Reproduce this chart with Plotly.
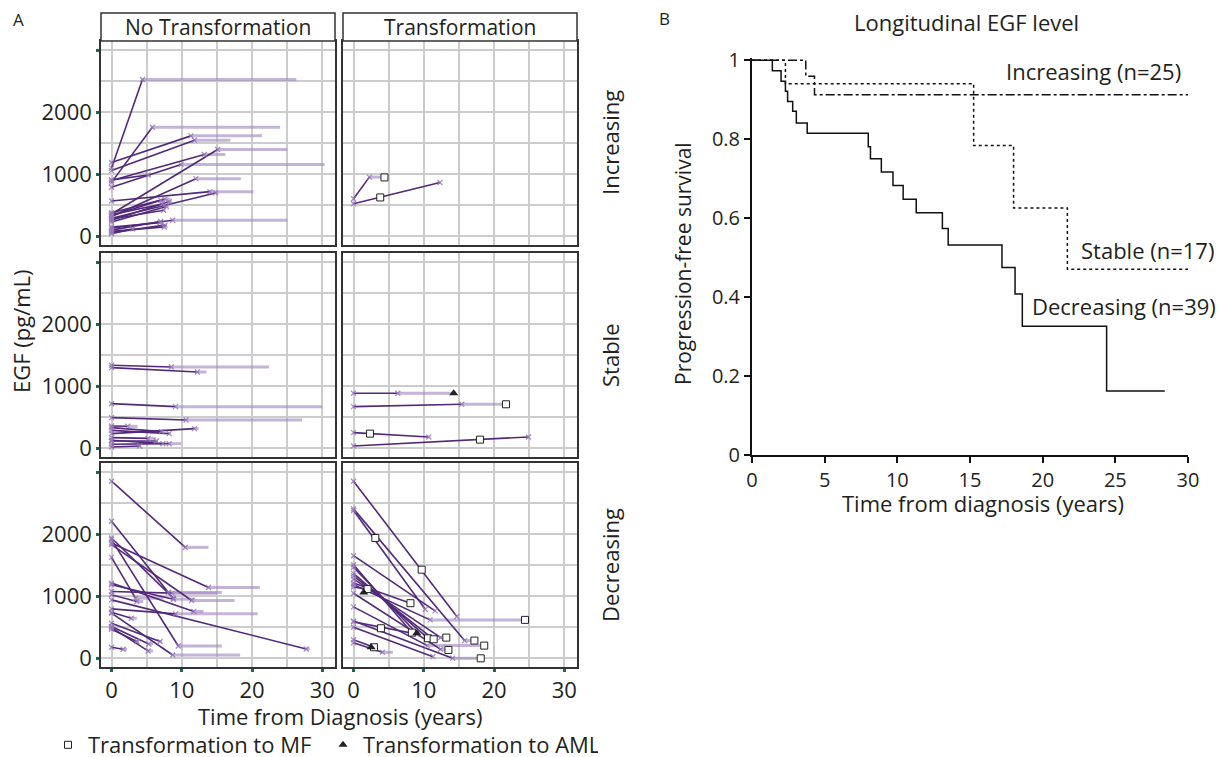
import plotly.graph_objects as go

# page body has an 8px margin, so the figure is drawn 8px smaller and positions are shifted
OFF = 8
W, H = 1227 - OFF, 757 - OFF
DARK = "#52297a"
LIGHT = "rgba(165,140,195,0.65)"
PT = "rgba(150,120,185,0.85)"
TEAL = "#17695d"
GRID = "#cccccc"
TXT = "#231f20"
FONT = "Open Sans"

# ---------------- panel A data: first sample at t=0 (EGF e0), second sample (t1, e1), follow-up end tend
inc_no_e0 = [1100, 870, 1190, 1060, 360, 900, 790, 910, 320, 570, 290, 380, 330, 260, 350, 230, 280, 130, 100, 60, 150, 80, 40]
inc_no_t1 = [4.4, 5.8, 11.3, 11.8, 15.1, 13.2, 9.9, 5.2, 12.0, 14.0, 14.8, 7.6, 7.0, 8.2, 7.2, 7.8, 7.4, 8.7, 7.0, 7.6, 6.9, 7.5, 3.0]
inc_no_e1 = [2530, 1760, 1620, 1550, 1400, 1320, 1160, 990, 930, 720, 700, 600, 580, 560, 520, 480, 420, 260, 240, 180, 220, 150, 120]
inc_no_tend = [26.3, 24.0, 21.4, 16.9, 25.0, 16.2, 30.3, 5.6, 18.4, 20.2, 15.2, 8.4, 7.6, 8.6, 7.4, 8.1, 7.7, 25.0, 7.2, 7.9, 7.1, 7.7, 3.2]

inc_tr_e0 = [606, 526]
inc_tr_t1 = [2.25, 12.3]
inc_tr_e1 = [955, 868]
inc_tr_tend = [4.4, 12.3]
inc_mf_t = [4.4, 3.8]
inc_mf_e = [950, 627]
inc_aml_t = []
inc_aml_e = []

stb_no_e0 = [1339, 1301, 720, 495, 360, 333, 237, 290, 172, 129, 65, 22, 118]
stb_no_t1 = [8.5, 12.2, 9.1, 10.6, 2.3, 7.1, 11.8, 8.2, 5.2, 7.3, 8.2, 4.0, 6.4]
stb_no_e1 = [1312, 1231, 672, 457, 355, 269, 317, 237, 161, 75, 75, 38, 118]
stb_no_tend = [22.4, 13.5, 30.0, 27.1, 3.7, 7.3, 12.4, 8.4, 6.3, 7.5, 9.9, 4.2, 6.6]

stb_tr_e0 = [887, 672, 253, 38]
stb_tr_t1 = [6.3, 15.4, 10.7, 24.9]
stb_tr_e1 = [887, 710, 183, 183]
stb_tr_tend = [14.25, 21.7, 10.7, 24.9]
stb_mf_t = [21.7, 2.35, 18.0]
stb_mf_e = [710, 237, 140]
stb_aml_t = [14.25]
stb_aml_e = [887]

dec_no_e0 = [2857, 2210, 1941, 1914, 1860, 1833, 1628, 1213, 1186, 1078, 1024, 943, 798, 728, 744, 566, 512, 469, 496, 178]
dec_no_t1 = [10.5, 8.1, 8.8, 9.5, 13.8, 11.4, 3.4, 11.7, 8.8, 8.6, 3.6, 27.7, 9.1, 8.7, 2.8, 6.9, 5.3, 3.6, 5.2, 1.65]
dec_no_e1 = [1790, 1062, 970, 199, 1143, 933, 970, 755, 954, 1051, 916, 151, 717, 54, 647, 270, 232, 270, 119, 146]
dec_no_tend = [13.8, 15.7, 9.2, 15.7, 21.1, 17.5, 7.4, 13.1, 11.9, 15.0, 4.5, 28.2, 20.8, 18.3, 3.6, 7.2, 5.9, 3.9, 5.9, 2.2]

dec_tr_e0 = [2857, 2410, 2383, 1655, 1510, 1470, 1213, 1370, 1330, 1280, 1185, 1150, 1050, 590, 830, 600, 500, 300, 250]
dec_tr_t1 = [14.7, 15.8, 10.2, 11.6, 8.3, 9.0, 8.1, 10.6, 11.4, 12.4, 10.9, 2.0, 12.4, 9.0, 10.5, 14.1, 11.3, 2.9, 4.1]
dec_tr_e1 = [674, 286, 792, 765, 415, 404, 889, 323, 307, 334, 620, 1116, 145, 390, 205, 0, 27, 178, 97]
dec_tr_tend = [14.7, 17.2, 10.2, 11.6, 8.3, 9.0, 8.1, 10.6, 11.4, 13.2, 24.4, 2.0, 13.5, 9.0, 18.6, 18.1, 11.3, 2.9, 5.6]
dec_mf_t = [9.7, 17.2, 3.1, 8.3, 8.1, 10.6, 11.4, 13.2, 24.4, 2.0, 13.5, 3.9, 18.6, 18.1, 2.9]
dec_mf_e = [1429, 286, 1941, 415, 889, 323, 307, 334, 620, 1116, 135, 485, 205, 0, 178]
dec_aml_t = [1.45, 9.0, 2.5]
dec_aml_e = [1062, 404, 178]

# ---------------- panel B data: Kaplan-Meier steps
dec_km_t = [0, 1.4, 2.0, 2.3, 2.45, 2.8, 3.05, 3.8, 8.0, 8.15, 8.9, 9.7, 10.4, 11.3, 13.1, 13.5, 17.2, 18.1, 18.6, 24.4, 28.4]
dec_km_s = [1, 0.974, 0.947, 0.922, 0.896, 0.871, 0.841, 0.815, 0.781, 0.751, 0.717, 0.683, 0.648, 0.614, 0.574, 0.532, 0.475, 0.408, 0.326, 0.162, 0.162]
stb_km_t = [0, 2.3, 15.25, 18.0, 21.7, 30]
stb_km_s = [1, 0.941, 0.784, 0.626, 0.471, 0.471]
inc_km_t = [0, 3.7, 4.3, 30]
inc_km_s = [1, 0.96, 0.913, 0.913]

rows = ["Increasing", "Stable", "Decreasing"]
cols = ["No Transformation", "Transformation"]


def fx(p):
    return (p - OFF) / W


def fy(p):
    return 1 - (p - OFF) / H


col_px = [(101, 335), (343, 577)]
row_px = [(41, 245), (253, 457), (463, 667)]

panels = [
    (inc_no_e0, inc_no_t1, inc_no_e1, inc_no_tend, None),
    (inc_tr_e0, inc_tr_t1, inc_tr_e1, inc_tr_tend, (inc_mf_t, inc_mf_e, inc_aml_t, inc_aml_e)),
    (stb_no_e0, stb_no_t1, stb_no_e1, stb_no_tend, None),
    (stb_tr_e0, stb_tr_t1, stb_tr_e1, stb_tr_tend, (stb_mf_t, stb_mf_e, stb_aml_t, stb_aml_e)),
    (dec_no_e0, dec_no_t1, dec_no_e1, dec_no_tend, None),
    (dec_tr_e0, dec_tr_t1, dec_tr_e1, dec_tr_tend, (dec_mf_t, dec_mf_e, dec_aml_t, dec_aml_e)),
]

fig = go.Figure()
layout = {}

for k, (e0, t1, e1, tend, ev) in enumerate(panels):
    r, c = divmod(k, 2)
    n = k + 1
    xa, ya = f"x{n}", f"y{n}"
    dx, dy, lx, ly, mx, my = [], [], [], [], [], []
    for a, t, b, te in zip(e0, t1, e1, tend):
        dx += [0, t, None]
        dy += [a, b, None]
        if te > t:
            lx += [t, te, None]
            ly += [b, b, None]
        mx += [0, t]
        my += [a, b]
    fig.add_trace(go.Scatter(x=lx, y=ly, mode="lines", xaxis=xa, yaxis=ya,
                             line=dict(color=LIGHT, width=3), showlegend=False, hoverinfo="skip"))
    fig.add_trace(go.Scatter(x=dx, y=dy, mode="lines", xaxis=xa, yaxis=ya,
                             line=dict(color=DARK, width=1.6), showlegend=False))
    fig.add_trace(go.Scatter(x=mx, y=my, mode="markers", xaxis=xa, yaxis=ya,
                             marker=dict(symbol="x-thin", size=5, line=dict(color=PT, width=1.3)),
                             showlegend=False))
    if ev:
        mf_t, mf_e, aml_t, aml_e = ev
        last = k == 5
        fig.add_trace(go.Scatter(x=mf_t, y=mf_e, mode="markers", xaxis=xa, yaxis=ya,
                                 name="Transformation to MF", legendgroup="mf", showlegend=last,
                                 marker=dict(symbol="square", size=7, color="white",
                                             line=dict(color="#222", width=1))))
        fig.add_trace(go.Scatter(x=aml_t, y=aml_e, mode="markers", xaxis=xa, yaxis=ya,
                                 name="Transformation to AML", legendgroup="aml", showlegend=last,
                                 marker=dict(symbol="triangle-up", size=8, color="#222")))

    x0, x1 = col_px[c]
    y0, y1 = row_px[r]
    xkey = "xaxis" if n == 1 else f"xaxis{n}"
    ykey = "yaxis" if n == 1 else f"yaxis{n}"
    layout[xkey] = dict(
        domain=[fx(x0), fx(x1)], range=[-1.5, 31.8], anchor=ya, automargin=False,
        tickvals=[0, 10, 20, 30], showticklabels=(r == 2),
        ticks="outside" if r == 2 else "", ticklen=3, tickwidth=3, tickcolor=TEAL,
        showgrid=True, gridcolor=GRID, gridwidth=1.6, zeroline=False,
        minor=dict(tickvals=[5, 15, 25], showgrid=True, gridcolor=GRID, gridwidth=1.6, ticks=""),
        showline=True, mirror=True, linecolor="#333", linewidth=1.5,
        tickfont=dict(size=22, color=TXT),
    )
    layout[ykey] = dict(
        domain=[fy(y1), fy(y0)], range=[-140, 3150], anchor=xa, automargin=False,
        tickvals=[0, 1000, 2000, 3000], ticktext=["0", "1000", "2000", ""],
        showticklabels=(c == 0), ticks="outside" if c == 0 else "",
        ticklen=3, tickwidth=3, tickcolor=TEAL,
        showgrid=True, gridcolor=GRID, gridwidth=1.6, zeroline=False,
        minor=dict(tickvals=[500, 1500, 2500], showgrid=True, gridcolor=GRID, gridwidth=1.6, ticks=""),
        showline=True, mirror=True, linecolor="#333", linewidth=1.5,
        tickfont=dict(size=22, color=TXT),
    )

# ---------------- panel B
km = [
    (dec_km_t, dec_km_s, "solid"),
    (stb_km_t, stb_km_s, "dot"),
    (inc_km_t, inc_km_s, "dashdot"),
]
for t, s, dash in km:
    fig.add_trace(go.Scatter(x=t, y=s, mode="lines", line_shape="hv", xaxis="x7", yaxis="y7",
                             line=dict(color="#111", width=1.5, dash=dash), showlegend=False))

layout["xaxis7"] = dict(
    domain=[fx(752), fx(1188)], range=[0, 30], anchor="y7", dtick=5, automargin=False,
    ticks="outside", ticklen=6, tickwidth=2, tickcolor="#111",
    showline=True, linecolor="#111", linewidth=2, showgrid=False, zeroline=False,
    tickfont=dict(size=20, color=TXT),
)
layout["yaxis7"] = dict(
    domain=[fy(455), fy(58)], range=[0, 1.006], anchor="x7", automargin=False,
    tickvals=[0, 0.2, 0.4, 0.6, 0.8, 1], ticktext=["0", "0.2", "0.4", "0.6", "0.8", "1"],
    ticks="outside", ticklen=6, tickwidth=2, tickcolor="#111",
    showline=True, linecolor="#111", linewidth=2, showgrid=False, zeroline=False,
    tickfont=dict(size=20, color=TXT),
)

# ---------------- strips, labels
shapes = []
ann = []


def text(t, x, y, size=20, angle=0):
    ann.append(dict(text=t, x=fx(x), y=fy(y), xref="paper", yref="paper", showarrow=False,
                    xanchor="center", yanchor="middle", textangle=angle,
                    font=dict(size=size, color=TXT)))


for c, name in enumerate(cols):
    x0, x1 = col_px[c]
    shapes.append(dict(type="rect", xref="paper", yref="paper", x0=fx(x0), x1=fx(x1),
                       y0=fy(41), y1=fy(13), fillcolor="white", line=dict(color="#333", width=1.5)))
    text(name, (x0 + x1) / 2, 27, 21)
for r, name in enumerate(rows):
    y0, y1 = row_px[r]
    text(name, 610, (y0 + y1) / 2, 22, -90)

text("A", 18, 20, 17)
text("B", 664, 18, 17)
text("EGF (pg/mL)", 21, 331, 22, -90)
text("Time from Diagnosis (years)", 340, 716, 22)
text("Longitudinal EGF level", 966, 22, 22)
text("Progression-free survival", 683, 264, 21, -90)
text("Time from diagnosis (years)", 983, 503, 22)
text("Increasing (n=25)", 1093, 71, 22)
text("Stable (n=17)", 1147, 250, 22)
text("Decreasing (n=39)", 1124, 306, 22)

fig.update_layout(
    width=W, height=H, margin=dict(l=0, r=0, t=0, b=0, autoexpand=False),
    paper_bgcolor="white", plot_bgcolor="white",
    font=dict(family=FONT, color=TXT),
    shapes=shapes, annotations=ann,
    legend=dict(orientation="h", x=fx(48), y=fy(745), xanchor="left", yanchor="middle",
                font=dict(size=22, color=TXT), itemwidth=30, entrywidth=230, entrywidthmode="pixels",
                bgcolor="rgba(0,0,0,0)"),
    **layout,
)

fig.write_html("out.html")
